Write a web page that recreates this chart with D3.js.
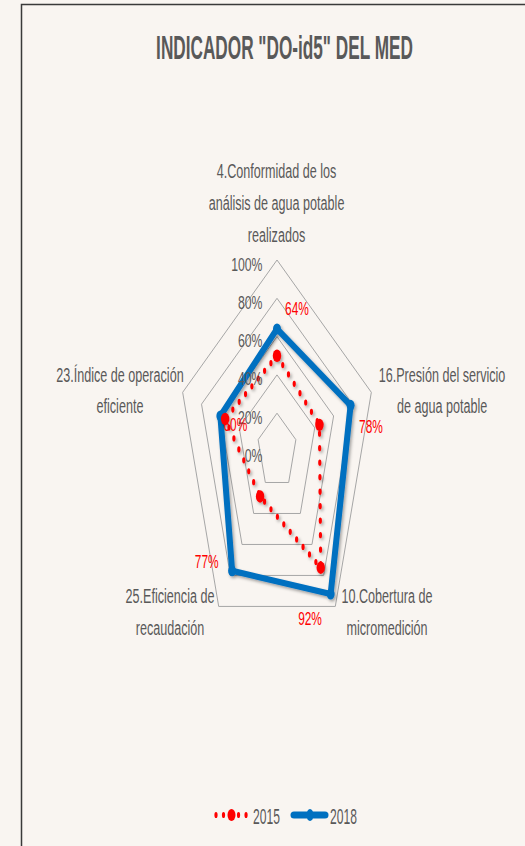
<!DOCTYPE html>
<html>
<head>
<meta charset="utf-8">
<script src="https://cdn.jsdelivr.net/npm/d3@7"></script>
<style>
  body { margin: 0; background: #f9f5f1; }
  svg { display: block; font-family: "Liberation Sans", Arial, sans-serif; }
</style>
</head>
<body>
<div class="radar"></div>
<script>
const chartTitle = 'INDICADOR "DO-id5" DEL MED';
const categories = [
  ["4.Conformidad de los", "análisis de agua potable", "realizados"],
  ["16.Presión del servicio", "de agua potable"],
  ["10.Cobertura de", "micromedición"],
  ["25.Eficiencia de", "recaudación"],
  ["23.Índice de operación", "eficiente"]
];
const values2015 = [0.50, 0.45, 0.75, 0.29, 0.55];
const values2018 = [0.64, 0.78, 0.92, 0.77, 0.60];
const ringTicks = [0, 0.2, 0.4, 0.6, 0.8, 1];
const seriesNames = ["2015", "2018"];

// layout (screen px)
const width = 525, height = 846;
const cx = 277, cy = 451.5, R = 191.5;
const sx = 0.518; // the chart is squeezed horizontally
const catOffset = [[-0.5, -81.7], [70.7, -10.6], [51.7, -3.1], [-48.7, -3.4], [-62.7, -10.6]];
const lblOffset = [[20, -14], [20.4, 27.7], [-20.6, 31], [-25.4, -2.5], [15, 14.7]];

const gray = "#595959", red = "#ff0000", blue = "#0070c0";

const svg = d3.select(".radar").append("svg")
  .attr("width", width).attr("height", height);

const defs = svg.append("defs");
const f = defs.append("filter").attr("id", "shadow")
  .attr("x", "-20%").attr("y", "-20%").attr("width", "140%").attr("height", "140%");
f.append("feDropShadow").attr("dx", 1.5).attr("dy", 2).attr("stdDeviation", 1.5)
  .attr("flood-color", "#000").attr("flood-opacity", 0.35);

svg.append("rect").attr("width", width).attr("height", height).attr("fill", "#f9f5f1");
svg.append("path").attr("d", "M21.5,846V4.5H525")
  .attr("fill", "none").attr("stroke", "#3a3a3a").attr("stroke-width", 1.5);

const rScale = d3.scaleLinear().domain([0, 1]).range([0, R]);
const angle = d3.scaleLinear().domain([0, categories.length]).range([0, 2 * Math.PI]);
const px = (v, i) => cx + sx * rScale(v) * Math.sin(angle(i));
const py = (v, i) => cy - rScale(v) * Math.cos(angle(i));

// squeezed text helper
function sqText(g, x, y, str, k, anchor) {
  return g.append("text")
    .attr("transform", `translate(${x},${y}) scale(${k},1)`)
    .attr("text-anchor", anchor || "middle")
    .text(str);
}

// title
svg.append("text")
  .attr("transform", `translate(284.5,59) scale(0.506,1)`)
  .attr("text-anchor", "middle")
  .attr("font-size", 34).attr("font-weight", "bold").attr("fill", gray)
  .text(chartTitle);

// grid rings
const ringLine = d3.line().curve(d3.curveLinearClosed);
svg.append("g").selectAll("path")
  .data(ringTicks.filter(t => t > 0))
  .join("path")
  .attr("d", t => ringLine(categories.map((c, i) => [px(t, i), py(t, i)])))
  .attr("fill", "none").attr("stroke", "#a6a6a6").attr("stroke-width", 1);

// category labels
const catG = svg.append("g").attr("font-size", 21).attr("fill", gray);
categories.forEach((lines, i) => {
  const x = px(1, i) + catOffset[i][0];
  const y = py(1, i) + catOffset[i][1];
  lines.forEach((s, j) => sqText(catG, x, y + j * 31.7, s, 0.6));
});

// 2018 series
const g18 = svg.append("g").attr("filter", "url(#shadow)");
g18.append("path")
  .attr("d", ringLine(values2018.map((v, i) => [px(v, i), py(v, i)])))
  .attr("fill", "none").attr("stroke", blue).attr("stroke-width", 6)
  .attr("stroke-linejoin", "round");
g18.selectAll("ellipse").data(values2018).join("ellipse")
  .attr("cx", (v, i) => px(v, i)).attr("cy", (v, i) => py(v, i))
  .attr("rx", 4).attr("ry", 5.5).attr("fill", blue);

// 2015 series (dotted, drawn in squeezed space so dots are oval)
const g15 = svg.append("g").attr("filter", "url(#shadow)");
g15.append("g").attr("transform", `translate(${cx},${cy}) scale(${sx},1)`)
  .append("path")
  .attr("d", ringLine(values2015.map((v, i) => [rScale(v) * Math.sin(angle(i)), -rScale(v) * Math.cos(angle(i))])))
  .attr("fill", "none").attr("stroke", red).attr("stroke-width", 6.2)
  .attr("stroke-linecap", "round").attr("stroke-dasharray", "0,14.5");
g15.selectAll("ellipse").data(values2015).join("ellipse")
  .attr("cx", (v, i) => px(v, i)).attr("cy", (v, i) => py(v, i))
  .attr("rx", 4.2).attr("ry", 6.2).attr("fill", red);

// tick labels
const tickG = svg.append("g").attr("font-size", 18).attr("fill", gray);
ringTicks.forEach(t => sqText(tickG, 262.5, py(t, 0) + 10.5, d3.format(".0%")(t), 0.68, "end"));

// data labels (2018)
const lblG = svg.append("g").attr("font-size", 17.5).attr("fill", red);
values2018.forEach((v, i) =>
  sqText(lblG, px(v, i) + lblOffset[i][0], py(v, i) + lblOffset[i][1], d3.format(".0%")(v), 0.68));

// legend
const ly = 815;
const leg = svg.append("g");
leg.append("g").attr("transform", `translate(0,${ly}) scale(${sx},1)`)
  .append("line")
  .attr("x1", 216 / sx).attr("x2", 247 / sx)
  .attr("stroke", red).attr("stroke-width", 6.2)
  .attr("stroke-linecap", "round").attr("stroke-dasharray", "0,14.5");
leg.append("ellipse").attr("cx", 231.5).attr("cy", ly).attr("rx", 4).attr("ry", 6).attr("fill", red);
leg.append("line").attr("x1", 294).attr("x2", 325).attr("y1", ly).attr("y2", ly)
  .attr("stroke", blue).attr("stroke-width", 7).attr("stroke-linecap", "round");
leg.append("ellipse").attr("cx", 310).attr("cy", ly).attr("rx", 3.5).attr("ry", 6).attr("fill", blue);
const legT = leg.append("g").attr("font-size", 22).attr("fill", gray);
sqText(legT, 253, 824, seriesNames[0], 0.55, "start");
sqText(legT, 330, 824, seriesNames[1], 0.55, "start");
</script>
</body>
</html>
